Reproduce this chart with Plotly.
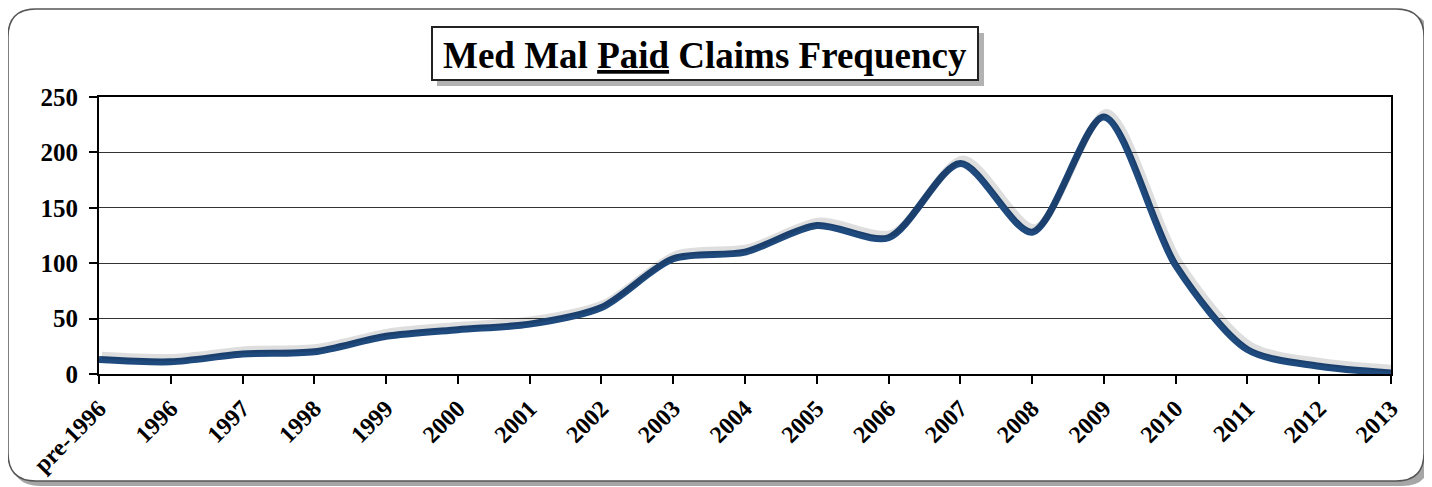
import plotly.graph_objects as go

categories = ["pre-1996", "1996", "1997", "1998", "1999", "2000", "2001", "2002", "2003",
              "2004", "2005", "2006", "2007", "2008", "2009", "2010", "2011", "2012", "2013"]
paid_claims = [13, 11, 18, 20, 34, 40, 45, 60, 104, 110, 134, 123, 190, 128, 232, 98, 22, 7, 1]
y_ticks = [0, 50, 100, 150, 200, 250]

OFF = 8  # page body margin
W, H = 1432 - OFF, 487 - OFF
L, R, T, B = 99 - OFF, 1391 - OFF, 97 - OFF, 374 - OFF  # plot area pixel bounds (figure coords)


def px(x):
    return (x - OFF - L) / (R - L)


def py(y):
    return (B - (y - OFF)) / (B - T)


def rounded_rect(x0, y0, x1, y1, r):
    return (f"M {px(x0 + r)},{py(y0)} L {px(x1 - r)},{py(y0)} "
            f"Q {px(x1)},{py(y0)} {px(x1)},{py(y0 + r)} "
            f"L {px(x1)},{py(y1 - r)} Q {px(x1)},{py(y1)} {px(x1 - r)},{py(y1)} "
            f"L {px(x0 + r)},{py(y1)} Q {px(x0)},{py(y1)} {px(x0)},{py(y1 - r)} "
            f"L {px(x0)},{py(y0 + r)} Q {px(x0)},{py(y0)} {px(x0 + r)},{py(y0)} Z")


LINE_COLOR = "#1F4A7E"
FONT = "Liberation Serif, Times New Roman, serif"
n = len(categories)

fig = go.Figure()

# soft shadow beneath the line (same data, on slightly shifted axes)
fig.add_trace(go.Scatter(x=categories, y=paid_claims, mode="lines", xaxis="x2", yaxis="y2",
                         line=dict(color="rgba(0,0,0,0.13)", width=7, shape="spline", smoothing=0.8),
                         hoverinfo="skip", showlegend=False))
fig.add_trace(go.Scatter(x=categories, y=paid_claims, mode="lines",
                         line=dict(color=LINE_COLOR, width=7, shape="spline", smoothing=0.8),
                         showlegend=False))

shapes = [
    # outer frame shadow
    dict(type="path", xref="paper", yref="paper", path=rounded_rect(12, 13, 1430, 486, 28),
         fillcolor="rgba(0,0,0,0.35)", line=dict(width=0), layer="below"),
    dict(type="path", xref="paper", yref="paper", path=rounded_rect(8, 9, 1424, 481, 28),
         fillcolor="white", line=dict(color="#555555", width=1.5), layer="below"),
    # title box shadow and box
    dict(type="rect", xref="paper", yref="paper", x0=px(437), x1=px(984), y0=py(33), y1=py(86),
         fillcolor="rgba(0,0,0,0.3)", line=dict(width=0), layer="above"),
    dict(type="rect", xref="paper", yref="paper", x0=px(432), x1=px(978), y0=py(27), y1=py(80),
         fillcolor="white", line=dict(color="#222222", width=2), layer="above"),
]

fig.add_annotation(x=px(705), y=py(55), xref="paper", yref="paper", showarrow=False,
                   text="<b>Med Mal <u>Paid</u> Claims Frequency</b>",
                   font=dict(family=FONT, size=37, color="black"),
                   xanchor="center", yanchor="middle")

fig.update_layout(
    width=W, height=H,
    margin=dict(l=L, r=W - R, t=T, b=H - B, pad=0, autoexpand=False),
    paper_bgcolor="white", plot_bgcolor="rgba(0,0,0,0)",
    shapes=shapes,
    xaxis=dict(type="category", range=[0, n - 1], showgrid=False, automargin=False,
               ticks="outside", ticklen=8, tickwidth=1.5, tickcolor="black",
               showline=True, linecolor="black", linewidth=2, mirror=True,
               tickangle=-45, tickfont=dict(family=FONT, size=24, color="black", weight="bold"),
               ticklabelstandoff=1, zeroline=False),
    xaxis2=dict(type="category", range=[-0.04, n - 1.04], overlaying="x", visible=False),
    yaxis=dict(range=[0, 250], tickvals=y_ticks, showgrid=True, gridcolor="#333333", gridwidth=1,
               automargin=False,
               ticks="outside", ticklen=8, tickwidth=1.5, tickcolor="black",
               showline=True, linecolor="black", linewidth=2, mirror=True,
               tickfont=dict(family=FONT, size=25, color="black", weight="bold"),
               ticklabelstandoff=6, zeroline=False),
    yaxis2=dict(range=[-4, 246], overlaying="y", visible=False),
    showlegend=False,
)

fig.write_html("out.html")
